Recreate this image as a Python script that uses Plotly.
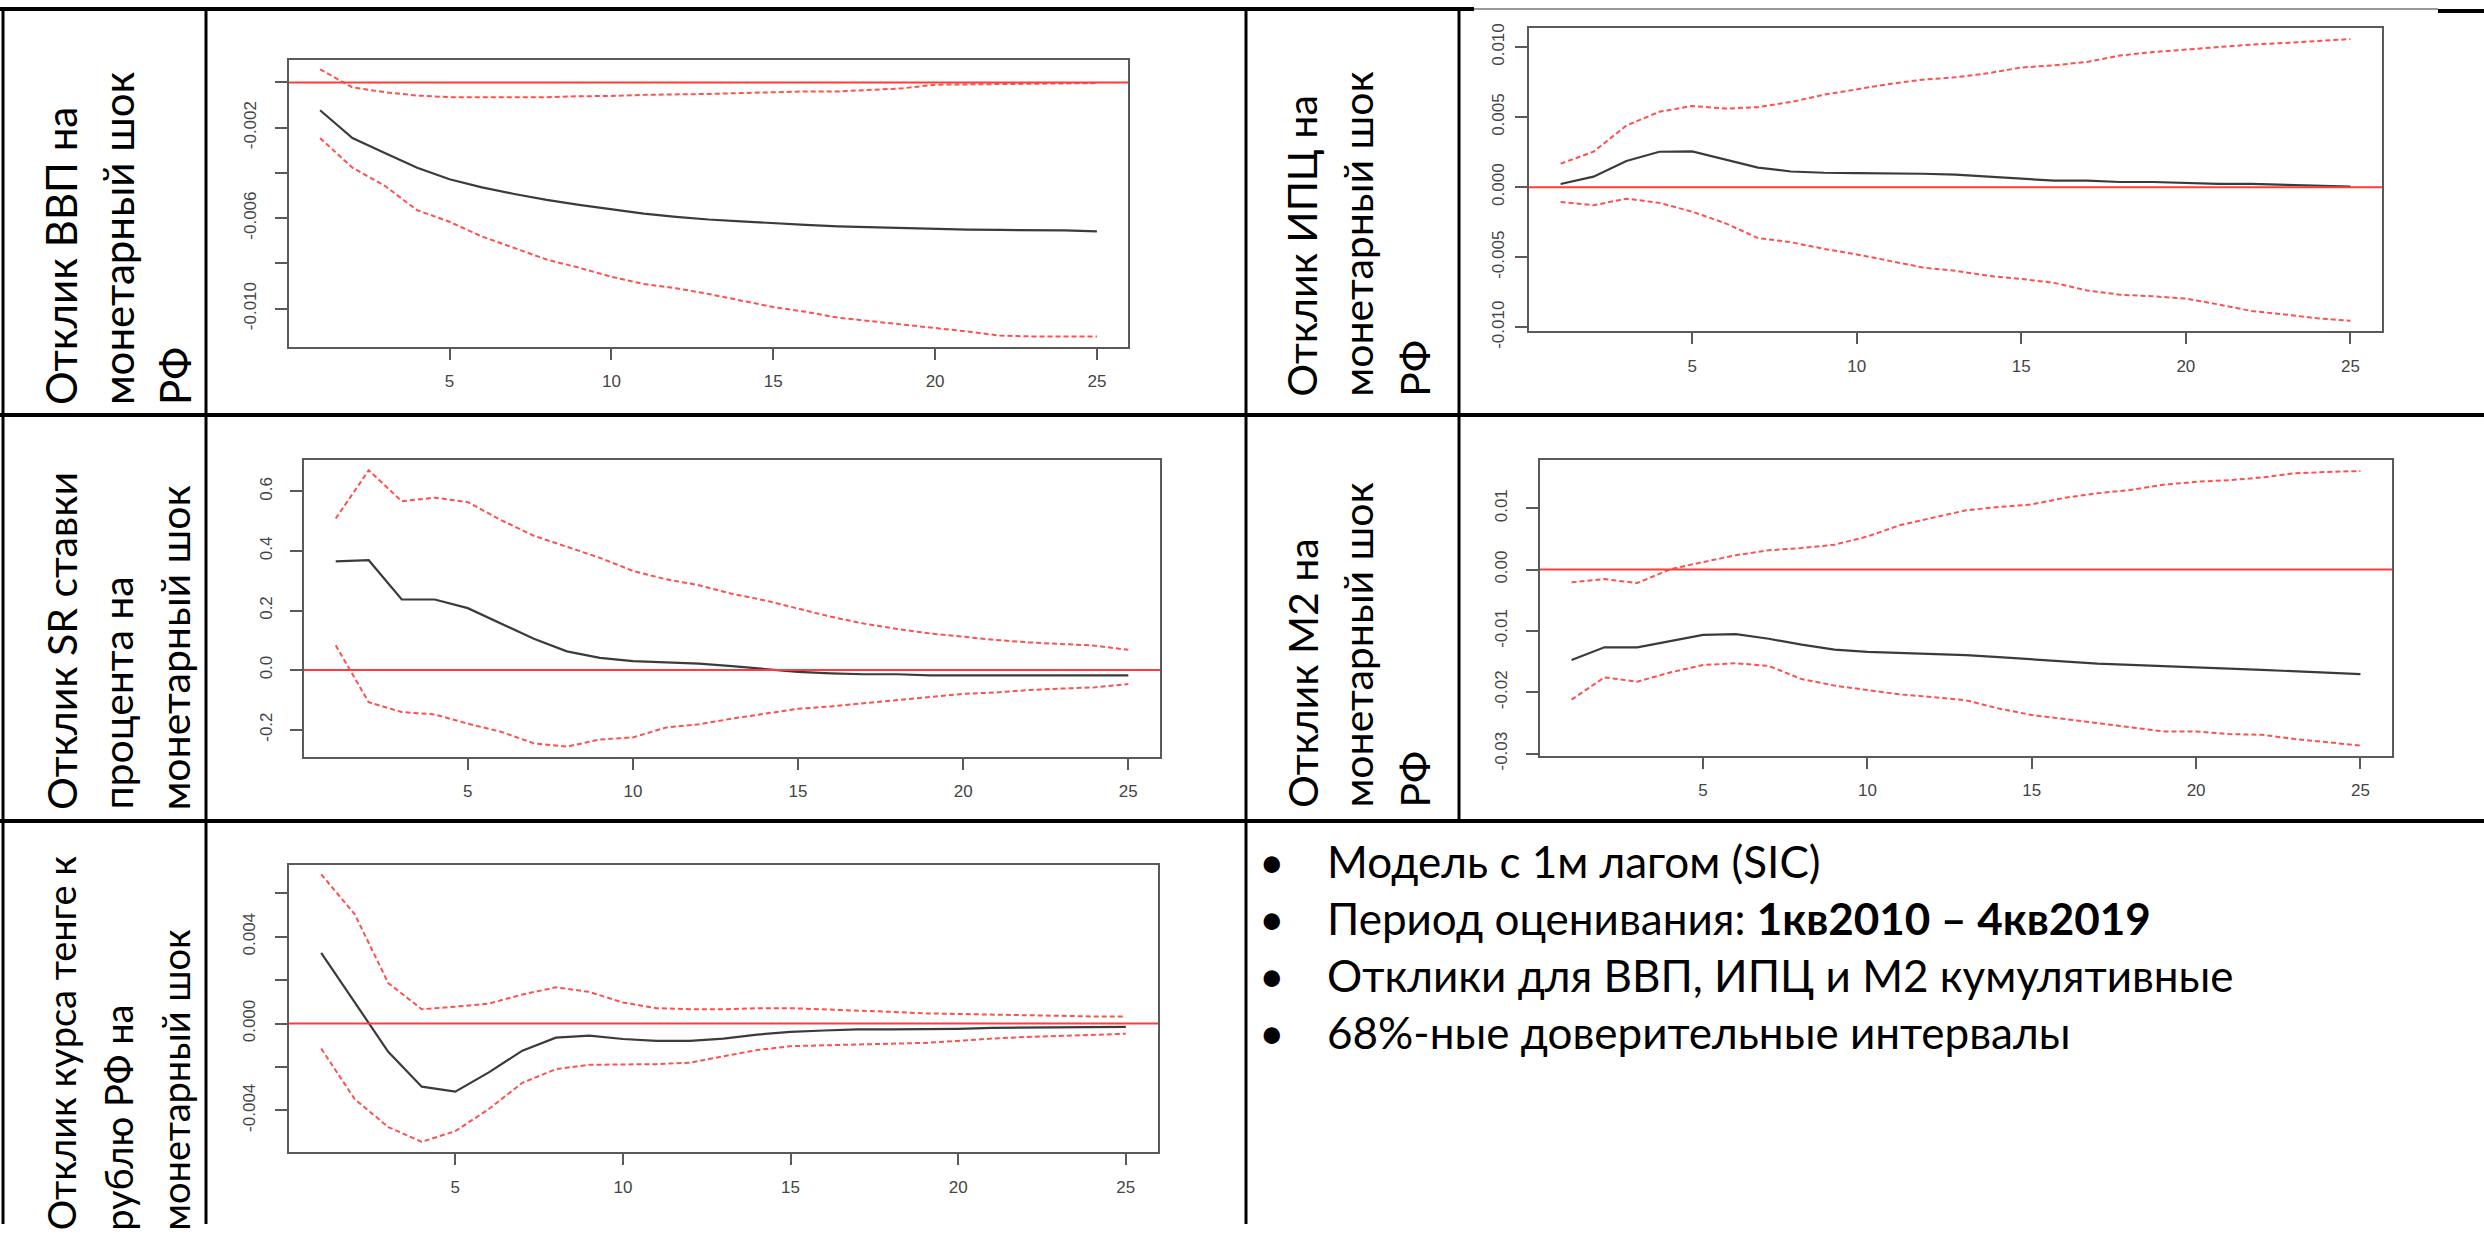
import plotly.graph_objects as go

W, H = 2484, 1241

# ---------------- data ----------------
horizon = [1, 2, 3, 4, 5, 6, 7, 8, 9, 10, 11, 12, 13, 14, 15, 16, 17, 18, 19, 20, 21, 22, 23, 24, 25]

gdp_irf = [-0.00123, -0.00246, -0.00312, -0.00377, -0.00428, -0.00464, -0.00493, -0.00519, -0.00541, -0.00561,
           -0.0058, -0.00594, -0.00606, -0.00614, -0.00623, -0.0063, -0.00636, -0.0064, -0.00645, -0.00649,
           -0.00651, -0.00652, -0.00652, -0.00654, -0.00658]
gdp_hi = [0.00058, -0.00022, -0.00043, -0.00058, -0.00065, -0.00065, -0.00065, -0.00065, -0.00061, -0.0006,
          -0.00055, -0.00054, -0.00051, -0.00047, -0.00042, -0.0004, -0.0004, -0.00032, -0.00026, -0.0001,
          -0.00009, -0.00009, -0.00007, -0.00004, -0.00003]
gdp_lo = [-0.00246, -0.00377, -0.00457, -0.00565, -0.00616, -0.00681, -0.00732, -0.00783, -0.00819, -0.00859,
          -0.00891, -0.0091, -0.00935, -0.00964, -0.00993, -0.01014, -0.0104, -0.01055, -0.0107, -0.01084,
          -0.01101, -0.01119, -0.01123, -0.01123, -0.01123]

cpi_irf = [0.00023, 0.00075, 0.00187, 0.00253, 0.00255, 0.00199, 0.0014, 0.00112, 0.00103, 0.00101,
           0.001, 0.00096, 0.00089, 0.00075, 0.00058, 0.00047, 0.00047, 0.00037, 0.00037, 0.0003,
           0.00023, 0.00023, 0.00016, 0.00014, 0.00005]
cpi_hi = [0.00168, 0.00253, 0.0044, 0.00538, 0.0058, 0.00561, 0.00571, 0.00608, 0.0066, 0.00697,
          0.00737, 0.00767, 0.00784, 0.00814, 0.00854, 0.0087, 0.00894, 0.0094, 0.00964, 0.00982,
          0.01001, 0.01018, 0.01029, 0.01041, 0.01057]
cpi_lo = [-0.00105, -0.00129, -0.00082, -0.00112, -0.00175, -0.00257, -0.00363, -0.00393, -0.0044, -0.0048,
          -0.00526, -0.00573, -0.00597, -0.00632, -0.00655, -0.00683, -0.00737, -0.00767, -0.00779, -0.00795,
          -0.00837, -0.00884, -0.00908, -0.00936, -0.00954]

sr_irf = [0.365, 0.369, 0.237, 0.237, 0.208, 0.156, 0.105, 0.063, 0.041, 0.030,
          0.026, 0.022, 0.013, 0.003, -0.006, -0.011, -0.014, -0.014, -0.018, -0.018,
          -0.018, -0.018, -0.018, -0.018, -0.018]
sr_hi = [0.509, 0.671, 0.567, 0.579, 0.564, 0.504, 0.451, 0.413, 0.377, 0.333,
         0.305, 0.285, 0.256, 0.234, 0.206, 0.179, 0.156, 0.138, 0.123, 0.112,
         0.101, 0.093, 0.088, 0.082, 0.068]
sr_lo = [0.083, -0.108, -0.141, -0.149, -0.180, -0.207, -0.246, -0.257, -0.233, -0.226,
         -0.193, -0.182, -0.163, -0.147, -0.130, -0.122, -0.111, -0.102, -0.091, -0.080,
         -0.075, -0.067, -0.062, -0.058, -0.047]

m2_irf = [-0.01474, -0.01266, -0.01266, -0.01159, -0.01063, -0.01052, -0.01127, -0.01223, -0.01303, -0.0134,
          -0.01356, -0.01373, -0.01394, -0.01426, -0.01463, -0.01501, -0.01533, -0.01554, -0.0157, -0.01597,
          -0.01613, -0.01634, -0.01661, -0.01677, -0.01704]
m2_hi = [-0.00208, -0.00155, -0.00219, 0.00005, 0.00123, 0.00235, 0.00315, 0.00352, 0.00406, 0.00539,
         0.00726, 0.00849, 0.00967, 0.0102, 0.01063, 0.0117, 0.01244, 0.01298, 0.01383, 0.01431,
         0.01458, 0.01501, 0.0157, 0.01591, 0.01607]
m2_lo = [-0.0212, -0.01757, -0.01826, -0.01677, -0.01554, -0.01527, -0.0157, -0.01784, -0.01891, -0.0196,
         -0.02035, -0.02077, -0.02131, -0.02264, -0.02371, -0.02435, -0.02505, -0.02569, -0.02638, -0.02638,
         -0.02681, -0.02692, -0.02761, -0.02814, -0.02868]

fx_irf = [0.00326, 0.00097, -0.0013, -0.00291, -0.00314, -0.00225, -0.00125, -0.00065, -0.00056, -0.00071,
          -0.0008, -0.0008, -0.00069, -0.00051, -0.00038, -0.00032, -0.00027, -0.00027, -0.00027, -0.00024,
          -0.0002, -0.00018, -0.00017, -0.00015, -0.00015]
fx_hi = [0.00688, 0.00504, 0.00187, 0.00066, 0.00078, 0.00092, 0.00134, 0.00167, 0.00146, 0.00097,
         0.00071, 0.00066, 0.00066, 0.00071, 0.00071, 0.00066, 0.00059, 0.00054, 0.00047, 0.00044,
         0.00039, 0.00039, 0.00035, 0.00033, 0.00033]
fx_lo = [-0.00115, -0.00348, -0.00477, -0.00545, -0.00496, -0.00394, -0.00273, -0.0021, -0.0019, -0.00187,
         -0.00187, -0.0018, -0.00152, -0.00122, -0.00104, -0.001, -0.00097, -0.00092, -0.00089, -0.0008,
         -0.00069, -0.00062, -0.00057, -0.00054, -0.00047]

x_ticks = [5, 10, 15, 20, 25]
gdp_ticks = [0.0, -0.002, -0.004, -0.006, -0.008, -0.010]
gdp_ticktext = ["", "-0.002", "", "-0.006", "", "-0.010"]
cpi_ticks = [0.010, 0.005, 0.0, -0.005, -0.010]
cpi_ticktext = ["0.010", "0.005", "0.000", "-0.005", "-0.010"]
sr_ticks = [0.6, 0.4, 0.2, 0.0, -0.2]
sr_ticktext = ["0.6", "0.4", "0.2", "0.0", "-0.2"]
m2_ticks = [0.01, 0.0, -0.01, -0.02, -0.03]
m2_ticktext = ["0.01", "0.00", "-0.01", "-0.02", "-0.03"]
fx_ticks = [0.006, 0.004, 0.002, 0.0, -0.002, -0.004]
fx_ticktext = ["", "0.004", "", "0.000", "", "-0.004"]

label_gdp = ["Отклик ВВП на", "монетарный шок", "РФ"]
label_cpi = ["Отклик ИПЦ на", "монетарный шок", "РФ"]
label_sr = ["Отклик SR ставки", "процента на", "монетарный шок"]
label_m2 = ["Отклик М2 на", "монетарный шок", "РФ"]
label_fx = ["Отклик курса тенге к", "рублю РФ на", "монетарный шок"]

bullets = [
    "Модель с 1м лагом (SIC)",
    "Период оценивания: <b>1кв2010 – 4кв2019</b>",
    "Отклики для ВВП, ИПЦ и М2 кумулятивные",
    "68%-ные доверительные интервалы",
]

# ---------------- layout helpers ----------------
def fx_(p):
    return p / W


def fy_(p):
    return 1 - p / H


panels = [
    dict(frame=(289, 1128, 57, 349), mid=gdp_irf, hi=gdp_hi, lo=gdp_lo, yr=(-0.0117, 0.00099),
         tv=gdp_ticks, tt=gdp_ticktext, so=12),
    dict(frame=(1529, 2382, 24, 333), mid=cpi_irf, hi=cpi_hi, lo=cpi_lo, yr=(-0.01029, 0.01139),
         tv=cpi_ticks, tt=cpi_ticktext, so=4),
    dict(frame=(304, 1160, 464, 766), mid=sr_irf, hi=sr_hi, lo=sr_lo, yr=(-0.292, 0.705),
         tv=sr_ticks, tt=sr_ticktext, so=11),
    dict(frame=(1540, 2392, 464, 765), mid=m2_irf, hi=m2_hi, lo=m2_lo, yr=(-0.03039, 0.01784),
         tv=m2_ticks, tt=m2_ticktext, so=12),
    dict(frame=(289, 1158, 876, 1168), mid=fx_irf, hi=fx_hi, lo=fx_lo, yr=(-0.00593, 0.0073),
         tv=fx_ticks, tt=fx_ticktext, so=13),
]

BLACK = "#3b3b3b"
RED_D = "#ff5050"
RED_Z = "#ff3b3b"
FRAME = "#5a5a5a"
TICKFONT = dict(family="Liberation Sans, Arial, sans-serif", size=17, color="#444444")

fig = go.Figure()
layout = dict(
    width=W, height=H, margin=dict(l=0, r=0, t=0, b=0),
    paper_bgcolor="white", plot_bgcolor="white", showlegend=False,
)
shapes = []
annotations = []

for i, p in enumerate(panels, start=1):
    xa = "x" if i == 1 else f"x{i}"
    ya = "y" if i == 1 else f"y{i}"
    x0, x1, y0, y1 = p["frame"]
    xkey = "xaxis" if i == 1 else f"xaxis{i}"
    ykey = "yaxis" if i == 1 else f"yaxis{i}"
    layout[xkey] = dict(
        domain=[fx_(x0), fx_(x1)], anchor=ya, range=[0.04, 25.96],
        tickvals=x_ticks, ticktext=[str(v) for v in x_ticks],
        ticks="outside", ticklen=11, tickwidth=1.5, tickcolor=FRAME,
        showline=True, mirror=True, linecolor=FRAME, linewidth=2,
        showgrid=False, zeroline=False, tickfont=TICKFONT, ticklabelstandoff=7,
    )
    layout[ykey] = dict(
        domain=[fy_(y1), fy_(y0)], anchor=xa, range=list(p["yr"]),
        tickvals=p["tv"], ticktext=p["tt"], tickangle=-90,
        ticks="outside", ticklen=12, tickwidth=1.5, tickcolor=FRAME,
        showline=True, mirror=True, linecolor=FRAME, linewidth=2,
        showgrid=False, zeroline=False, tickfont=TICKFONT, ticklabelstandoff=p["so"],
    )
    fig.add_trace(go.Scatter(x=horizon, y=p["hi"], xaxis=xa, yaxis=ya, mode="lines",
                             line=dict(color=RED_D, width=2, dash="5px,3px"), hoverinfo="skip"))
    fig.add_trace(go.Scatter(x=horizon, y=p["lo"], xaxis=xa, yaxis=ya, mode="lines",
                             line=dict(color=RED_D, width=2, dash="5px,3px"), hoverinfo="skip"))
    fig.add_trace(go.Scatter(x=horizon, y=p["mid"], xaxis=xa, yaxis=ya, mode="lines",
                             line=dict(color=BLACK, width=2.2), hoverinfo="skip"))
    shapes.append(dict(type="line", xref=f"{xa} domain", yref=ya, x0=0, x1=1, y0=0, y1=0,
                       line=dict(color=RED_Z, width=2), layer="above"))

# ---------------- table grid ----------------
def hline(y, xa, xb, w=4, color="black"):
    shapes.append(dict(type="line", xref="paper", yref="paper", x0=fx_(xa), x1=fx_(xb),
                       y0=fy_(y), y1=fy_(y), line=dict(color=color, width=w)))


def vline(x, ya, yb, w=3, color="black"):
    shapes.append(dict(type="line", xref="paper", yref="paper", x0=fx_(x), x1=fx_(x),
                       y0=fy_(ya), y1=fy_(yb), line=dict(color=color, width=w)))


hline(5, 0, 1474, w=4)
hline(5, 1474, 2438, w=1.5, color="#777777")
hline(7, 2438, 2484, w=4)
hline(418, 0, 2484, w=4)
hline(831, 0, 2484, w=4)
vline(3, 4, 1241)
vline(206, 4, 1241)
vline(1246, 4, 1241)
vline(1459, 4, 831)

# ---------------- row labels (one rotated annotation per line) ----------------
left_cols = [61, 118, 175]
right_cols = [1302, 1358, 1415]
label_specs = [
    (label_gdp, left_cols, 410, 42),
    (label_cpi, right_cols, 402, 41),
    (label_sr, left_cols, 822, 41),
    (label_m2, right_cols, 820, 41),
    (label_fx, left_cols, 1250, 38),
]
for lines, cols, bottom, fsize in label_specs:
    for txt, cx in zip(lines, cols):
        annotations.append(dict(text=txt, xref="paper", yref="paper", x=fx_(cx), y=fy_(bottom),
                                xanchor="center", yanchor="bottom", textangle=-90,
                                showarrow=False,
                                font=dict(family="Lato, Open Sans, sans-serif", size=fsize,
                                          color="black")))

# ---------------- bullets ----------------
BFONT = dict(family="Lato, Open Sans, sans-serif", size=44, color="black")
bullet_y = [872, 930, 988, 1046]
for txt, by in zip(bullets, bullet_y):
    annotations.append(dict(text="•", xref="paper", yref="paper", x=fx_(1272), y=fy_(by),
                            xanchor="center", yanchor="middle", showarrow=False, font=BFONT))
    annotations.append(dict(text=txt, xref="paper", yref="paper", x=fx_(1325), y=fy_(by),
                            xanchor="left", yanchor="middle", showarrow=False, font=BFONT))

layout["shapes"] = shapes
layout["annotations"] = annotations
fig.update_layout(**layout)

fig.write_html("out.html")
